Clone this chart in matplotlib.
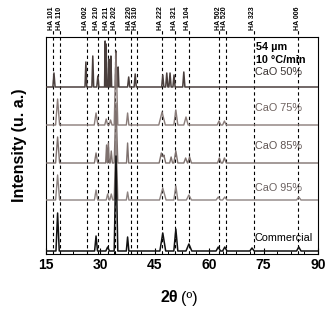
import numpy as np
import matplotlib
matplotlib.use("Agg")
import matplotlib.pyplot as plt
from matplotlib.ticker import MultipleLocator

plt.rcParams['font.family'] = ['Liberation Sans', 'DejaVu Sans']

# ---- data (intensity in arbitrary units, offsets per trace) ----
ha_labels = ['HA 101', 'HA 110', 'HA 002', 'HA 210', 'HA 211', 'HA 202', 'HA 220', 'HA 310',
             'HA 222', 'HA 321', 'HA 104', 'HA 502', 'HA 520', 'HA 323', 'HA 006']
ha_pos = [17.0, 18.95, 26.2, 29.25, 32.0, 34.1, 38.3, 40.0, 46.9, 50.65, 54.5, 62.8, 64.6, 72.4, 84.6]

series_names = ['CaO 50%', 'CaO 75%', 'CaO 85%', 'CaO 95%', 'Commercial']
series_offset = [167, 129, 91, 54, 3]

com_pos = [18.2, 28.8, 32.0, 34.3, 37.5, 47.2, 50.8, 54.4, 62.5, 64.3, 71.8, 84.7]
com_h = [38, 15, 4, 95, 14, 18, 22, 7, 4, 4, 3, 4]
com_w = [0.45, 0.4, 0.5, 0.5, 0.35, 0.8, 0.55, 0.8, 0.6, 0.6, 0.6, 0.6]

c95_pos = [18.2, 28.8, 32.0, 33.0, 34.3, 37.5, 47.2, 50.8, 54.4, 62.5, 64.3, 84.7]
c95_h = [25, 10, 6, 6, 66, 8, 12, 14, 5, 3, 3, 3]
c95_w = [0.55, 0.45, 0.4, 0.4, 0.5, 0.35, 0.9, 0.55, 0.7, 0.6, 0.6, 0.6]

c85_pos = [18.2, 28.8, 31.7, 32.2, 33.0, 34.3, 37.5, 46.8, 47.5, 49.5, 50.8, 53.5, 54.6, 62.8, 64.2]
c85_h = [26, 10, 18, 20, 12, 60, 20, 10, 8, 6, 12, 5, 6, 5, 5]
c85_w = [0.55, 0.45, 0.25, 0.25, 0.3, 0.5, 0.3, 0.6, 0.5, 0.4, 0.55, 0.5, 0.5, 0.5, 0.5]

c75_pos = [18.2, 28.8, 31.6, 32.8, 34.3, 37.5, 47.0, 50.8, 53.6, 62.7, 64.2]
c75_h = [26, 12, 6, 5, 72, 12, 13, 15, 8, 4, 4]
c75_w = [0.55, 0.5, 0.4, 0.4, 0.5, 0.35, 0.9, 0.55, 0.6, 0.5, 0.5]

c50_pos = [17.2, 26.0, 27.9, 29.3, 31.3, 31.6, 32.3, 32.9, 34.3, 34.9, 37.8, 39.6,
           47.2, 48.3, 49.2, 50.3, 53.0]
c50_h = [14, 25, 31, 11, 46, 43, 28, 31, 36, 20, 10, 13, 12, 14, 14, 12, 15]
c50_w = [0.3, 0.25, 0.25, 0.3, 0.15, 0.15, 0.2, 0.2, 0.2, 0.2, 0.3, 0.3,
         0.3, 0.3, 0.3, 0.3, 0.3]

series_peaks = [(c50_pos, c50_h, c50_w), (c75_pos, c75_h, c75_w), (c85_pos, c85_h, c85_w),
                (c95_pos, c95_h, c95_w), (com_pos, com_h, com_w)]
series_colors = ['#4a3f3d', '#8a7c79', '#7e716e', '#8d8381', '#111111']
label_colors = ['#3a3331', '#6e625f', '#5f5452', '#6b6261', '#000000']
series_lw = [1.1, 1.0, 1.0, 1.0, 1.1]
label_y = [72, 108, 146, 188, 238]  # pixel rows of the labels

W, H = 335, 318
fig = plt.figure(figsize=(W / 100, H / 100), dpi=100)
ax_l, ax_r, ax_t, ax_b = 46, 318, 37, 254
ax = fig.add_axes([ax_l / W, 1 - ax_b / H, (ax_r - ax_l) / W, (ax_b - ax_t) / H])
ax.set_xlim(15, 90)
ax.set_ylim(0, ax_b - ax_t)


def polyline(base, pos, h, w):
    xs = {15.0, 90.0}
    for p, wi in zip(pos, w):
        xs.update([p - wi, p, p + wi])
    xs = np.array(sorted(xs))
    ys = np.full_like(xs, float(base))
    for p, hi, wi in zip(pos, h, w):
        ys += np.clip(hi * (1 - np.abs(xs - p) / wi), 0, None)
    return xs, ys


for i, name in enumerate(series_names):
    pos, h, w = series_peaks[i]
    xs, ys = polyline(series_offset[i], pos, h, w)
    ax.plot(xs, ys, color=series_colors[i], lw=series_lw[i], solid_joinstyle='round',
            solid_capstyle='round', zorder=3)
    ax.text(72.6, (ax_b - label_y[i]), name, color=label_colors[i], fontsize=7.8,
            ha='left', va='center', zorder=4)

top = ax_b - ax_t
for p, lab in zip(ha_pos, ha_labels):
    ax.plot([p, p], [0, top + 7], ls=(0, (3, 2.5)), color='black', lw=0.8, clip_on=False, zorder=2)
    ax.text(p - 0.35, top + 7, lab, rotation=90, fontsize=5.0, fontweight='bold',
            ha='center', va='bottom')

ax.text(72.8, ax_b - 47, '54 µm', fontsize=7.8, fontweight='bold', ha='left', va='center')
ax.text(72.8, ax_b - 60, '10 °C/min', fontsize=7.8, fontweight='bold', ha='left', va='center')

ax.set_yticks([])
ax.xaxis.set_major_locator(MultipleLocator(15))
ax.xaxis.set_minor_locator(MultipleLocator(3.75))
ax.tick_params(axis='x', which='major', direction='in', length=4, width=0.8, pad=3,
               labelsize=10)
ax.tick_params(axis='x', which='minor', direction='in', length=2.5, width=0.7)
for lbl in ax.get_xticklabels():
    lbl.set_fontweight('bold')
for s in ax.spines.values():
    s.set_linewidth(0.8)

fig.text(20 / W, 1 - 145 / H, 'Intensity (u. a.)', rotation=90, fontsize=11.5,
         fontweight='bold', ha='center', va='center')
fig.text(178 / W, 1 - 298 / H, '2θ', fontsize=11.5, fontweight='bold', ha='right', va='center')
fig.text(181 / W, 1 - 298 / H, '(º)', fontsize=11.5, ha='left', va='center')

fig.savefig('out.png', dpi=100)
